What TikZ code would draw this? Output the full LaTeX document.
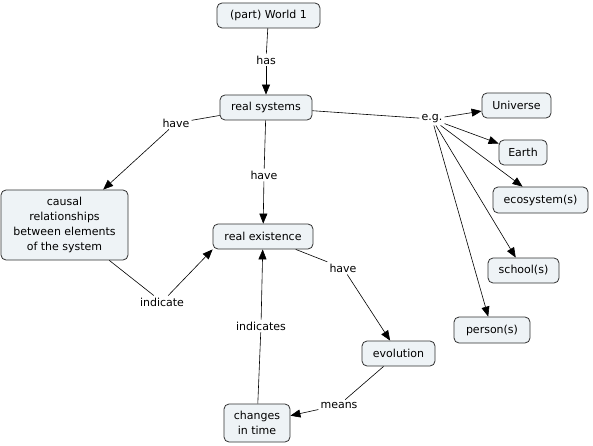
\documentclass[tikz,border=0pt]{standalone}
\usepackage{fontspec}
\setmainfont{DejaVu Sans}
\usetikzlibrary{arrows.meta}
\definecolor{boxfill}{HTML}{EEF3F6}
\definecolor{boxline}{HTML}{303030}
\begin{document}
\begin{tikzpicture}[x=1pt,y=-1pt,
  concept/.style={draw=boxline,fill=boxfill,rounded corners=5pt,line width=0.8pt,
    align=center,font=\fontsize{11}{15}\selectfont,inner sep=0pt},
  lbl/.style={font=\fontsize{11}{15}\selectfont,inner sep=2pt,fill=white},
  link/.style={draw=black,line width=0.6pt},
  arr/.style={link,-{Triangle[length=10pt,width=8pt]}}]
\useasboundingbox (0,0) rectangle (593,446);
\node[concept,minimum width=103pt,minimum height=25pt] (w1) at (268.5,15.5) {(part) World 1};
\node[concept,minimum width=92pt,minimum height=25pt] (rs) at (266,107.5) {real systems};
\node[concept,minimum width=127pt,minimum height=70pt] (cr) at (64.5,225) {causal\\relationships\\between elements\\of the system};
\node[concept,minimum width=100pt,minimum height=25pt] (re) at (263,236.5) {real existence};
\node[concept,minimum width=69pt,minimum height=25pt] (un) at (516.5,105.5) {Universe};
\node[concept,minimum width=48pt,minimum height=25pt] (ea) at (523,152.5) {Earth};
\node[concept,minimum width=95pt,minimum height=26pt] (ec) at (540.5,200) {ecosystem(s)};
\node[concept,minimum width=71pt,minimum height=25pt] (sc) at (523.5,270.5) {school(s)};
\node[concept,minimum width=76pt,minimum height=26pt] (pe) at (492,330) {person(s)};
\node[concept,minimum width=73pt,minimum height=25pt] (ev) at (398.5,353.5) {evolution};
\node[concept,minimum width=66pt,minimum height=38pt] (ch) at (257,423) {changes\\in time};

\node[lbl] (l1) at (266,60) {has};
\node[lbl] (l2) at (176,123) {have};
\node[lbl] (l3) at (264,175) {have};
\node[lbl] (l4) at (432,119) {e.g.};
\node[lbl] (l5) at (162,302) {indicate};
\node[lbl] (l6) at (261,326) {indicates};
\node[lbl] (l7) at (343,268) {have};
\node[lbl] (l8) at (339,405) {means};

\draw[link] (w1) -- (l1); \draw[arr] (l1) -- (rs);
\draw[link] (rs) -- (l2); \draw[arr] (l2) -- (cr);
\draw[link] (rs) -- (l3); \draw[arr] (l3) -- (re);
\draw[link] (rs) -- (l4);
\draw[arr] (l4) -- (un);
\draw[arr] (l4) -- (ea);
\draw[arr] (l4) -- (ec);
\draw[arr] (l4) -- (sc);
\draw[arr] (l4) -- (pe);
\draw[link] (cr) -- (l5); \draw[arr] (l5) -- (re.south west);
\draw[link] (ch) -- (l6); \draw[arr] (l6) -- (re);
\draw[link] (re) -- (l7); \draw[arr] (l7) -- (ev);
\draw[link] (ev) -- (l8); \draw[arr] (l8) -- (ch);
\end{tikzpicture}
\end{document}
